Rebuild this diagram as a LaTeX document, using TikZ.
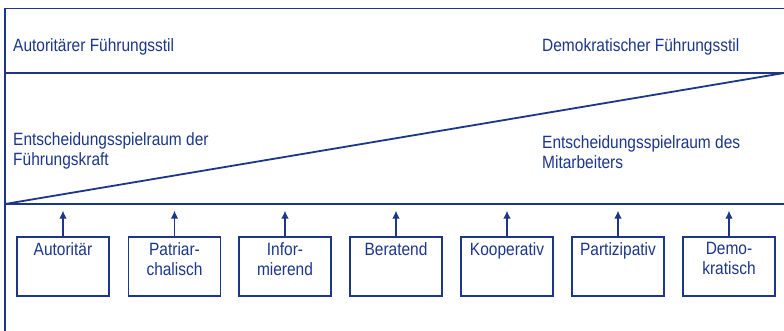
\documentclass[tikz,border=0pt]{standalone}
\usepackage{fontspec}
\setmainfont[FakeStretch=0.87]{Liberation Sans}
\usetikzlibrary{arrows.meta}
\definecolor{dblue}{RGB}{28,55,138}
\begin{document}
\begin{tikzpicture}[x=1pt,y=-1pt,
  frame/.style={draw=dblue,line width=1.8pt},
  txt/.style={text=dblue,inner sep=0pt,font=\fontsize{17.8}{20}\selectfont,align=left},
  stilbox/.style={draw=dblue,line width=1.8pt,minimum width=92pt,minimum height=59pt,inner sep=0pt},
  boxtext/.style={text=dblue,inner sep=0pt,font=\fontsize{17.8}{20}\selectfont,align=center,anchor=north},
  up/.style={draw=dblue,line width=1.8pt,-{Latex[length=8pt,width=7.5pt]}}]
\useasboundingbox (0,0) rectangle (784,330);
\fill[white] (0,0) rectangle (784,330);
% frame coordinates
\coordinate (TL) at (5,8.5);
\coordinate (TR) at (784,8.5);
\coordinate (ML) at (5,73);
\coordinate (MR) at (784,73);
\coordinate (BL) at (5,204);
\coordinate (BR) at (784,204);
\coordinate (EL) at (5,331);
\coordinate (ay) at (0,210.5);
\draw[frame] (TR) -- (TL) -- (EL);
\draw[frame] (ML) -- (MR);
\draw[frame] (BL) -- (BR);
\draw[frame] (BL) -- (MR);
% texts
\node[txt,anchor=base west] (auto) at (13,51) {Autoritärer Führungsstil};
\node[txt,anchor=base west] (demo) at (542,51.5) {Demokratischer Führungsstil};
\node[txt,anchor=north west] (fk) at (13,132.5) {Entscheidungsspielraum der\\Führungskraft};
\node[txt,anchor=north west] (ma) at (542,135.7) {Entscheidungsspielraum des\\Mitarbeiters};
% boxes
\foreach \i/\x/\t in {1/63/{Autoritär},2/174.5/{Patriar-\\chalisch},3/285/{Infor-\\mierend},4/396/{Beratend},5/507/{Kooperativ},6/618/{Partizipativ},7/729/{Demo-\\kratisch}}{
  \node[stilbox] (b\i) at (\x,266.5) {};
  \node[boxtext] (t\i) at ([yshift=-6pt]b\i.north) {\t};
  \draw[up] (b\i.north) -- (b\i.north |- ay);
}
\end{tikzpicture}
\end{document}
